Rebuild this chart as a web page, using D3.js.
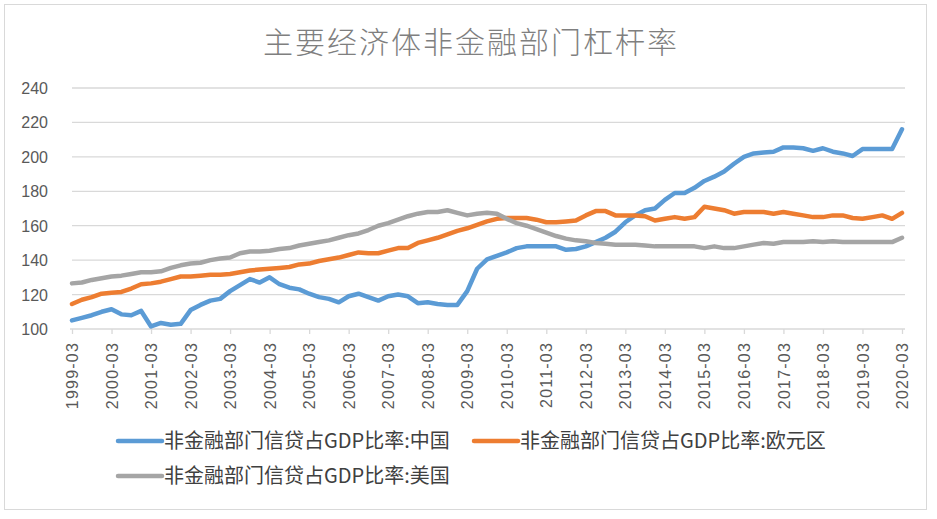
<!DOCTYPE html>
<html>
  <head>
    <meta charset="utf-8">
    <script src="https://d3js.org/d3.v7.min.js"></script>
    <style>
      body { margin: 0; background: #fff; }
      text { font-family: "Noto Sans CJK SC", "Noto Sans", sans-serif; }
    </style>
  </head>
  <body>
    <div id="container"></div>

    <script type="text/javascript">
      // Quarter labels, 1999-03 .. 2020-03
      var years = d3.range(1999, 2021);
      var months = ["03", "06", "09", "12"];
      var quarters = [];
      years.forEach(function(y) {
        months.forEach(function(m) { quarters.push(y + "-" + m); });
      });
      quarters = quarters.slice(0, 85);

      var yTicks = [100, 120, 140, 160, 180, 200, 220, 240];

      // 非金融部门信贷占GDP比率
      var china = [
        105, 106.5, 108, 110, 111.5, 108.5, 108, 110.5,
        101.5, 103.5, 102.5, 103, 111, 114, 116.5, 117.5,
        122, 125.5, 129, 127, 130, 126, 124, 123,
        120.5, 118.5, 117.5, 115.5, 119, 120.5, 118.5, 116.5,
        119, 120, 119, 115, 115.5, 114.5, 114, 114,
        122, 135, 140.5, 142.5, 144.5, 147, 148, 148,
        148, 148, 146, 146.5, 148, 150.5, 153, 156.5,
        162, 166, 169, 170, 175, 179, 179, 182,
        186, 188.5, 191.5, 196, 200, 202, 202.5, 203,
        205.5, 205.5, 205, 203.5, 205, 203, 202, 200.5,
        204.5, 204.5, 204.5, 204.5, 216
      ];
      var euro = [
        114.5, 117, 118.5, 120.5, 121, 121.5, 123.5, 126,
        126.5, 127.5, 129, 130.5, 130.5, 131, 131.5, 131.5,
        132, 133, 134, 134.5, 135, 135.5, 136, 137.5,
        138, 139.5, 140.5, 141.5, 143, 144.5, 144, 144,
        145.5, 147, 147, 150, 151.5, 153, 155, 157,
        158.5, 160.5, 162.5, 164, 164.5, 164.5, 164.5, 163.5,
        162, 162, 162.5, 163, 166, 168.5, 168.5, 166,
        166, 166, 165.5, 163, 164, 165, 164, 165,
        171, 170, 169, 167, 168, 168, 168, 167,
        168, 167, 166, 165, 165, 166, 166, 164.5,
        164, 165, 166, 164, 167.5
      ];
      var usa = [
        126.5, 127, 128.5, 129.5, 130.5, 131, 132, 133,
        133, 133.5, 135.5, 137, 138, 138.5, 140, 141,
        141.5, 144, 145, 145, 145.5, 146.5, 147, 148.5,
        149.5, 150.5, 151.5, 153, 154.5, 155.5, 157.5, 160,
        161.5, 163.5, 165.5, 167, 168, 168, 169, 167.5,
        166, 167, 167.5, 167, 164, 161.5, 160, 158,
        156, 154, 152.5, 151.5, 151, 150, 149.5, 149,
        149, 149, 148.5, 148, 148, 148, 148, 148,
        147, 148, 147, 147, 148, 149, 150, 149.5,
        150.5, 150.5, 150.5, 151, 150.5, 151, 150.5, 150.5,
        150.5, 150.5, 150.5, 150.5, 153
      ];

      var series = [
        { name: "非金融部门信贷占GDP比率:中国", values: china, color: "#5B9BD5" },
        { name: "非金融部门信贷占GDP比率:欧元区", values: euro, color: "#ED7D31" },
        { name: "非金融部门信贷占GDP比率:美国", values: usa, color: "#A5A5A5" }
      ];

      var width = 937,
          height = 519;
      var svg = d3.select("#container").append("svg")
        .attr("width", width)
        .attr("height", height);

      // chart frame
      svg.append("rect")
        .attr("x", 4.5).attr("y", 4.5)
        .attr("width", 922).attr("height", 505)
        .attr("fill", "#fff")
        .attr("stroke", "#d9d9d9");

      svg.append("text")
        .attr("x", 471).attr("y", 53)
        .attr("text-anchor", "middle")
        .style("font-size", "30px")
        .style("font-weight", "300")
        .style("letter-spacing", "2px")
        .style("fill", "#7f7f7f")
        .text("主要经济体非金融部门杠杆率");

      var x = d3.scaleLinear().domain([0, quarters.length - 1]).range([72, 902]);
      var y = d3.scaleLinear().domain([100, 240]).range([329, 88]);

      // gridlines
      svg.append("g")
        .selectAll("line")
        .data(yTicks.filter(function(d) { return d > 100; }))
        .enter().append("line")
          .attr("x1", 72).attr("x2", 905)
          .attr("y1", function(d) { return y(d); })
          .attr("y2", function(d) { return y(d); })
          .attr("stroke", "#d9d9d9")
          .attr("stroke-width", 1.3);

      // y axis labels
      svg.append("g")
        .selectAll("text")
        .data(yTicks)
        .enter().append("text")
          .attr("x", 48)
          .attr("y", function(d) { return y(d) + 6; })
          .attr("text-anchor", "end")
          .style("font-family", "'Liberation Sans', Arial, sans-serif")
          .style("font-size", "16px")
          .style("fill", "#595959")
          .text(function(d) { return d; });

      // x axis
      var tickIdx = d3.range(0, quarters.length, 4);
      var xAxis = d3.axisBottom(x)
        .tickValues(tickIdx)
        .tickSize(5)
        .tickFormat(function(i) { return quarters[i]; });

      var gx = svg.append("g")
        .attr("transform", "translate(0," + y(100) + ")")
        .call(xAxis);
      gx.select(".domain")
        .attr("stroke", "#d9d9d9")
        .attr("stroke-width", 1.3)
        .attr("d", "M70,0H905");
      gx.selectAll(".tick line").attr("stroke", "#d9d9d9").attr("stroke-width", 1.3);
      gx.selectAll(".tick text")
        .attr("transform", "rotate(-90)")
        .attr("x", -13)
        .attr("y", 0)
        .attr("dy", "0.35em")
        .attr("text-anchor", "end")
        .style("font-family", "'Liberation Sans', Arial, sans-serif")
        .style("font-size", "16px")
        .style("letter-spacing", "1.2px")
        .style("fill", "#595959");

      // lines
      var line = d3.line()
        .x(function(d, i) { return x(i); })
        .y(function(d) { return y(d); });

      svg.append("g")
        .selectAll("path")
        .data(series)
        .enter().append("path")
          .attr("d", function(d) { return line(d.values); })
          .attr("fill", "none")
          .attr("stroke", function(d) { return d.color; })
          .attr("stroke-width", 4.5)
          .attr("stroke-linejoin", "round")
          .attr("stroke-linecap", "round");

      // legend
      var legendPos = [[118, 441], [474, 441], [118, 476]];
      var lg = svg.append("g")
        .selectAll("g")
        .data(series)
        .enter().append("g")
          .attr("transform", function(d, i) {
            return "translate(" + legendPos[i][0] + "," + legendPos[i][1] + ")";
          });
      lg.append("line")
        .attr("x1", 0).attr("x2", 44)
        .attr("stroke", function(d) { return d.color; })
        .attr("stroke-width", 4.5)
        .attr("stroke-linecap", "round");
      lg.append("text")
        .attr("x", 46)
        .attr("y", 7)
        .style("font-size", "20px")
        .style("fill", "#404040")
        .text(function(d) { return d.name; });
    </script>
  </body>
</html>
